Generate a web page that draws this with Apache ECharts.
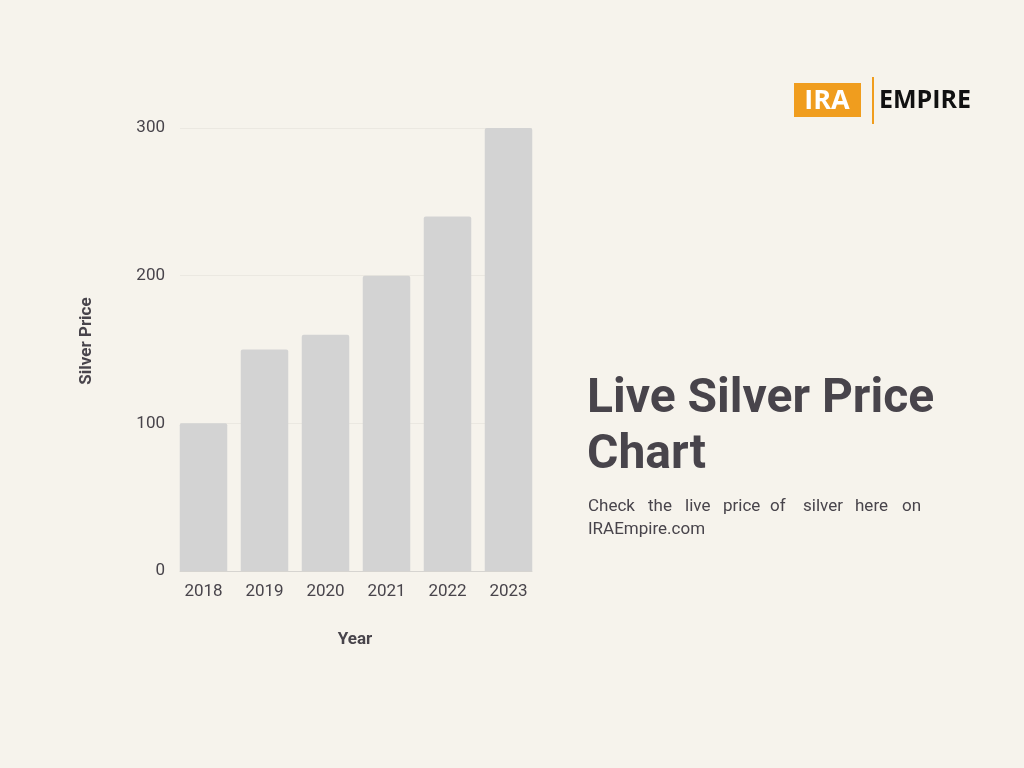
<!DOCTYPE html>
<html><head><meta charset="utf-8">
<script src="https://cdn.jsdelivr.net/npm/echarts@6/dist/echarts.min.js"></script>
<style>html,body{margin:0;padding:0;background:#f6f3ec;}#c{width:1024px;height:768px;}</style>
</head><body><div id="c"></div>
<script>
const years = ['2018','2019','2020','2021','2022','2023'];
const prices = [100, 150, 160, 200, 240, 300];
const yTicks = [0, 100, 200, 300];
const titleLines = ['Live Silver Price', 'Chart'];
const subtitleWords = ['Check','the','live','price','of','silver','here','on'];
const subtitleLine2 = 'IRAEmpire.com';
const xName = 'Year';
const yName = 'Silver Price';

const textColor = '#48444b';
const font = 'Roboto, "Noto Sans", sans-serif';
const chart = echarts.init(document.getElementById('c'));

// word x positions for justified line
const wordX = [588, 648, 685, 723, 770, 803, 855, 902];

const graphics = [
  {type:'text', left:587, top:376, style:{text:titleLines[0], font:'bold 48px '+font, fill:textColor}},
  {type:'text', left:587, top:432, style:{text:titleLines[1], font:'bold 48px '+font, fill:textColor}},
  ...subtitleWords.map((w,i)=>({type:'text', left:wordX[i], top:498, style:{text:w, font:'17px '+font, fill:textColor}})),
  {type:'text', left:588, top:521, style:{text:subtitleLine2, font:'17px '+font, fill:textColor}},
  {type:'text', x:355, y:640, style:{text:xName, font:'bold 17px '+font, fill:textColor, align:'center', verticalAlign:'middle'}},
  {type:'text', x:87, y:341, rotation:Math.PI/2, style:{text:yName, font:'bold 17px '+font, fill:textColor, align:'center', verticalAlign:'middle'}},
  // logo
  {type:'rect', shape:{x:794, y:83, width:67, height:34}, style:{fill:'#f09d1e'}},
  {type:'text', x:827, y:101, style:{text:'IRA', font:'bold 27px "Open Sans", '+font, fill:'#ffffff', align:'center', verticalAlign:'middle'}},
  {type:'rect', shape:{x:872, y:77, width:2, height:47}, style:{fill:'#f09d1e'}},
  {type:'text', x:879, y:101, style:{text:'EMPIRE', font:'bold 25px "Open Sans", '+font, fill:'#111111', align:'left', verticalAlign:'middle'}}
];

chart.setOption({
  backgroundColor:'#f6f3ec',
  animation:false,
  grid:[
    {left:180, width:352, top:128, bottom:197},
    {left:173, width:366, top:128, bottom:197}
  ],
  xAxis:[
    {type:'category', gridIndex:0, data:years, boundaryGap:true,
     axisLine:{show:true, lineStyle:{color:'#d6d4d0', width:1}}, axisTick:{show:false},
     axisLabel:{show:false}},
    {type:'category', gridIndex:1, data:years, boundaryGap:true,
     axisLine:{show:false}, axisTick:{show:false},
     axisLabel:{color:textColor, fontSize:17, fontFamily:font, margin:12}}
  ],
  yAxis:[
    {type:'value', gridIndex:0, min:0, max:300, interval:100,
     axisLine:{show:false}, axisTick:{show:false},
     axisLabel:{color:textColor, fontSize:17, fontFamily:font, margin:15, padding:[6,0,0,0]},
     splitLine:{lineStyle:{color:'#ebe8e1', width:1}}},
    {type:'value', gridIndex:1, min:0, max:300, interval:100, show:false, splitLine:{show:false}}
  ],
  series:[{
    type:'bar', xAxisIndex:1, yAxisIndex:1, data:prices, barWidth:47.5,
    itemStyle:{color:'#d3d3d3', borderRadius:[2,2,0,0]}
  }],
  graphic:graphics
});
</script></body></html>
